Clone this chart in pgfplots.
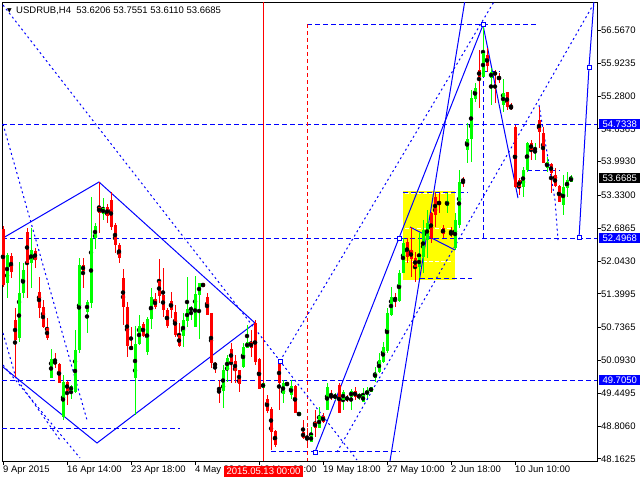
\documentclass[border=0pt]{standalone}
\usepackage{fontspec}
\setmainfont{Liberation Sans}
\newfontfamily\symfont{DejaVu Sans}
\usepackage{pgfplots}
\usepackage{pgfplotstable}
\pgfplotsset{compat=1.18}
\definecolor{mtgreen}{RGB}{0,255,0}
\definecolor{mtred}{RGB}{255,0,0}
\definecolor{mtblue}{RGB}{0,0,255}
\definecolor{mtyellow}{RGB}{255,255,0}

% candles in chart pixel units: x, high, low, body top, body bottom
\pgfplotstableread{
x hi lo bt bb
7 253 298 255 283
19 262 342 293 338
23 263 298 270 293
31 228 288 250 263
51 349 378 359 378
63 375 420 382 417
71 385 399 386 391
75 330 393 350 392
79 258 353 265 350
87 300 333 302 312
91 197 308 238 303
95 223 249 226 238
103 198 220 208 214
135 326 415 344 378
139 315 345 326 344
147 317 355 319 352
151 288 329 297 319
183 313 347 320 336
187 277 327 309 321
191 306 320 308 310
195 276 327 294 327
199 283 339 283 295
223 365 408 370 391
227 355 382 358 370
243 343 368 347 367
247 325 347 342 348
263 383 388 383 388
283 380 403 383 394
291 380 399 386 395
299 412 416 412 416
311 427 442 435 442
319 407 428 416 428
327 383 410 387 410
335 393 400 395 398
343 390 410 392 400
351 389 410 391 397
359 393 400 394 398
363 388 402 395 402
367 387 398 390 395
371 387 392 387 392
375 367 382 373 378
379 353 373 360 372
383 342 363 347 362
387 308 353 313 351
391 287 316 297 315
399 270 302 273 301
403 238 273 243 273
419 233 278 257 267
423 220 273 230 257
427 210 258 223 240
447 193 213 201 206
455 213 250 220 248
459 170 228 182 225
467 123 163 139 150
471 90 162 98 139
475 83 102 88 99
483 27 77 53 77
491 68 105 72 78
503 79 112 93 105
523 167 197 170 187
527 142 172 143 170
535 143 160 148 150
547 157 172 162 168
563 175 215 187 205
567 172 197 180 188
571 175 182 177 182
}\upc
\pgfplotstableread{
x hi lo bt bb
3 226 287 229 285
11 253 278 256 272
15 308 377 320 340
27 228 298 232 263
35 248 268 251 260
39 277 318 292 308
43 300 328 307 327
47 318 340 328 338
55 353 368 361 364
59 363 383 364 383
67 381 405 382 391
83 258 288 265 271
99 182 233 207 213
107 204 223 207 216
111 192 230 200 227
115 223 253 225 245
119 243 263 245 258
123 269 325 278 307
127 302 357 307 346
131 327 350 346 350
143 322 337 324 336
155 293 309 299 307
159 259 303 281 296
163 268 317 295 310
167 308 328 310 326
171 292 318 301 310
175 305 337 312 335
179 323 347 335 346
203 283 287 283 287
207 293 315 297 315
211 313 368 313 363
215 362 373 363 366
219 380 403 387 391
231 343 383 349 362
235 355 383 361 371
239 370 392 370 384
251 330 357 342 348
255 320 365 323 362
259 358 389 359 389
267 395 413 399 411
271 407 450 409 432
275 430 447 431 445
279 363 410 363 383
287 382 386 383 385
295 385 413 386 413
303 420 439 432 438
307 428 447 437 440
315 410 437 422 428
323 413 423 416 422
331 390 400 395 398
339 383 413 385 413
347 395 402 397 400
355 387 400 391 397
395 293 307 297 301
407 238 263 242 257
411 227 277 250 259
415 252 282 258 267
431 212 243 213 238
435 193 227 197 215
439 193 213 201 205
443 225 238 228 234
451 227 237 232 235
463 177 187 179 182
479 50 108 70 77
487 48 72 55 66
495 70 103 72 75
499 73 83 77 79
507 92 110 92 107
511 103 110 106 109
515 125 188 127 187
519 178 195 180 187
531 140 160 143 150
539 107 148 120 132
543 127 163 133 163
551 163 193 164 173
555 168 187 175 186
559 185 202 186 202
}\dnc

\begin{document}
\begin{tikzpicture}[
  dsh/.style={mtblue, line width=1pt, dash pattern=on 5pt off 3pt},
  dts/.style={mtblue, line width=1pt, dash pattern=on 2pt off 3pt},
  sol/.style={mtblue, line width=1pt},
  lab/.style={font=\fontsize{9.5}{10}\selectfont}]
\useasboundingbox (-2pt,-19pt) rectangle (638pt,461pt);
\begin{axis}[
  at={(0,0)}, anchor=south west,
  width=595pt, height=459pt, scale only axis,
  xmin=2, xmax=597, ymin=2, ymax=461, y dir=reverse,
  clip mode=individual,
  axis line style={black, line width=1pt},
  tick align=outside, major tick length=4pt,
  tick style={black, line width=1pt},
  xtick pos=left, ytick pos=right, yticklabel pos=right,
  tick label style={font=\fontsize{9.5}{10}\selectfont},
  xtick={3,67,131,195,259,323,387,451,515},
  xticklabels={9 Apr 2015,16 Apr 14:00,23 Apr 18:00,4 May 22:00,12 May 02:00,19 May 18:00,27 May 10:00,2 Jun 18:00,10 Jun 10:00},
  xticklabel style={anchor=north west, inner sep=0pt, yshift=-1pt},
  ytick={30.5,63.3,96.1,128.9,161.7,195.5,228.3,261.1,293.9,327.7,360.5,393.3,426.1,458.9},
  yticklabels={56.5670,55.9235,55.2800,54.6365,53.9930,53.3300,52.6865,52.0430,51.3995,50.7365,50.0930,49.4495,48.8060,48.1625},
  yticklabel style={anchor=west, inner sep=0pt},
]
% yellow rectangle
\addplot[fill=mtyellow, draw=none] coordinates {(403,191) (455,191) (455,280) (403,280)} -- cycle;
\addplot[white, line width=1pt, dash pattern=on 4pt off 2pt] coordinates {(405,193) (453,193)};
\addplot[white, line width=1pt, dash pattern=on 4pt off 2pt] coordinates {(405,228) (453,228)};
\addplot[white, line width=1pt, dash pattern=on 4pt off 2pt] coordinates {(405,261) (453,261)};
% horizontal levels
\addplot[dsh] coordinates {(2,124) (597,124)};
\addplot[dsh] coordinates {(2,238) (597,238)};
\addplot[dsh] coordinates {(2,380) (597,380)};
\addplot[dsh] coordinates {(2,428) (180,428)};
\addplot[dsh] coordinates {(271,451) (400,451)};
\addplot[dsh] coordinates {(307,24) (537,24)};
\addplot[dsh] coordinates {(403,192) (468,192)};
\addplot[dsh] coordinates {(420,278) (472,278)};
\addplot[dsh] coordinates {(527,170) (560,170)};
\addplot[dsh] coordinates {(483,71) (500,71)};
\addplot[dsh] coordinates {(483,25) (483,238)};
% vertical markers
\addplot[mtred, line width=1pt] coordinates {(263,2) (263,461)};
\addplot[mtred, line width=1pt, dash pattern=on 4pt off 3pt] coordinates {(307,24) (307,461)};
% dotted diagonals
\addplot[dts] coordinates {(3,5) (280,361) (357,460)};
\addplot[dts] coordinates {(3,124) (87,420)};
\addplot[dts] coordinates {(280,361) (495,0)};
\addplot[dts] coordinates {(337,452) (593,5)};
\addplot[dts] coordinates {(3,333) (16,378) (60,440)};
\addplot[dts] coordinates {(3,365) (80,458)};
\addplot[dts] coordinates {(539,105) (555,200) (558,240)};
% solid wave lines
\addplot[sol] coordinates {(3,238) (99,182) (255,323) (97,443) (3,367)};
\addplot[sol] coordinates {(315,452) (399,238) (483,25)};
\addplot[sol] coordinates {(390,461) (465,0)};
\addplot[sol] coordinates {(483,25) (518,198)};
\addplot[sol] coordinates {(579,238) (589,67) (594,0)};
\addplot[sol] coordinates {(410,227) (455,250)};
% candles: wicks
\addplot[only marks, mark=none, error bars/.cd, y dir=both, y explicit, error mark=none,
  error bar style={draw=mtgreen, line width=1pt}]
  table[x=x, y expr={(\thisrow{hi}+\thisrow{lo})/2}, y error expr={(\thisrow{lo}-\thisrow{hi})/2}] \upc;
\addplot[only marks, mark=none, error bars/.cd, y dir=both, y explicit, error mark=none,
  error bar style={draw=mtred, line width=1pt}]
  table[x=x, y expr={(\thisrow{hi}+\thisrow{lo})/2}, y error expr={(\thisrow{lo}-\thisrow{hi})/2}] \dnc;
% candles: bodies
\addplot[only marks, mark=none, error bars/.cd, y dir=both, y explicit, error mark=none,
  error bar style={draw=mtgreen, line width=3pt}]
  table[x=x, y expr={(\thisrow{bt}+\thisrow{bb})/2}, y error expr={(\thisrow{bb}-\thisrow{bt})/2}] \upc;
\addplot[only marks, mark=none, error bars/.cd, y dir=both, y explicit, error mark=none,
  error bar style={draw=mtred, line width=3pt}]
  table[x=x, y expr={(\thisrow{bt}+\thisrow{bb})/2}, y error expr={(\thisrow{bb}-\thisrow{bt})/2}] \dnc;
% wave points
\addplot[only marks, mark=square*, mark size=2pt, mark options={draw=mtblue, fill=white, line width=1pt}]
  coordinates {(280,361) (315,452) (399,238) (483,24) (579,237) (589,67)};
\coordinate (b1) at (axis cs:597,123.9);
\coordinate (b2) at (axis cs:597,178.2);
\coordinate (b3) at (axis cs:597,238);
\coordinate (b4) at (axis cs:597,380.3);
\coordinate (dt) at (axis cs:263.5,461);
\coordinate (tt) at (axis cs:16,11);
\coordinate (tri) at (axis cs:9.5,11);
\end{axis}
\begin{scope}[every node/.style={lab, anchor=west, inner xsep=0pt, inner ysep=0pt, minimum height=10pt, minimum width=41pt, text=white, xshift=2pt}]
\node[fill=mtblue] at (b1) {54.7338};
\node[fill=black] at (b2) {53.6685};
\node[fill=mtblue] at (b3) {52.4968};
\node[fill=mtblue] at (b4) {49.7050};
\end{scope}
\node[lab, anchor=north, fill=mtred, text=white, inner xsep=0pt, inner ysep=0pt, minimum width=79pt, minimum height=11pt, yshift=-5pt] at (dt) {2015.05.13 00:00};
\node[lab, anchor=west, inner sep=0pt] at (tt) {USDRUB,H4\ \ 53.6206 53.7551 53.6110 53.6685};
\node[inner sep=0pt, font=\symfont\fontsize{6}{6}\selectfont] at (tri) {▼};
\end{tikzpicture}
\end{document}
